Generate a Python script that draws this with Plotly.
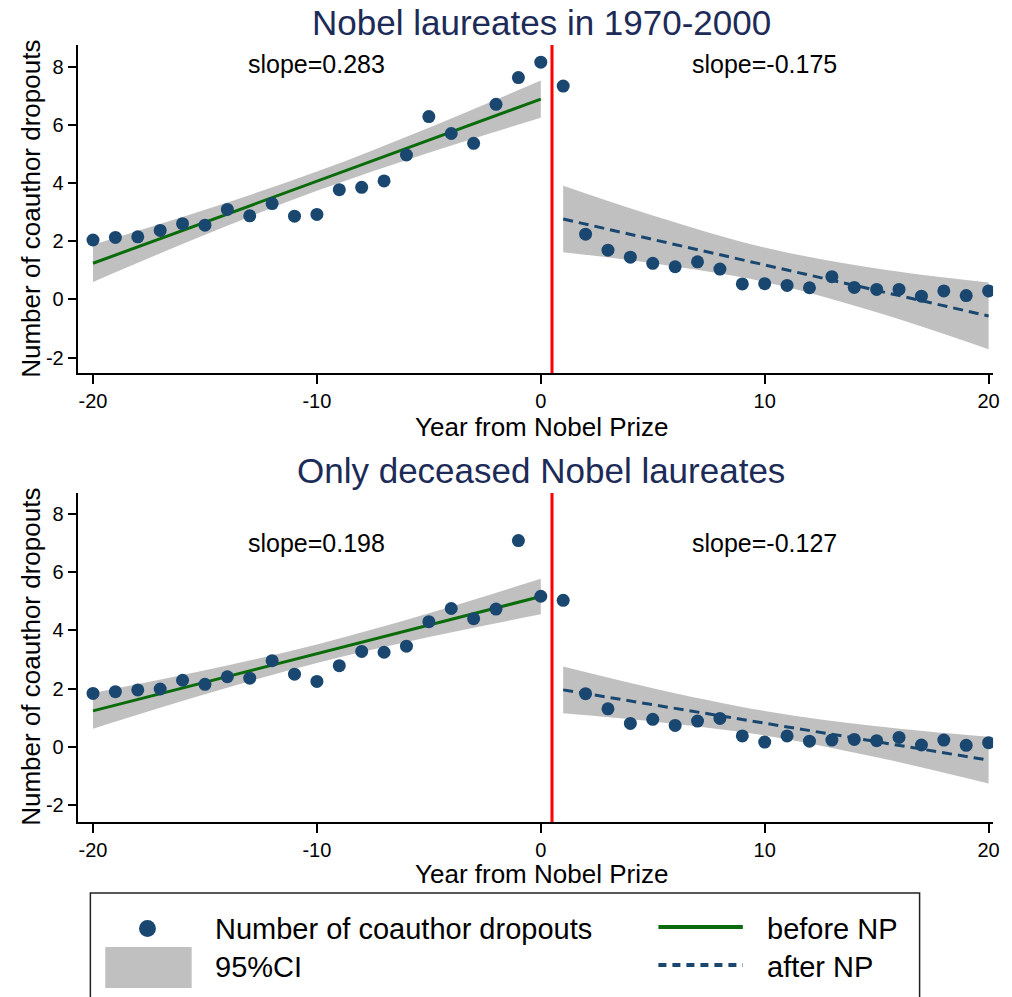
import plotly.graph_objects as go

# ---------------- data ----------------
years_before = list(range(-20, 1))
years_after = list(range(1, 21))

# Panel 1: Nobel laureates in 1970-2000
p1_before = [2.04, 2.13, 2.15, 2.37, 2.60, 2.55, 3.09, 2.87, 3.29, 2.86, 2.92,
             3.77, 3.85, 4.07, 4.96, 6.28, 5.70, 5.36, 6.70, 7.62, 8.15]
p1_after = [7.33, 2.24, 1.69, 1.45, 1.24, 1.12, 1.29, 1.04, 0.53, 0.54, 0.48,
            0.40, 0.78, 0.41, 0.34, 0.34, 0.11, 0.29, 0.13, 0.29]

# Panel 2: Only deceased Nobel laureates
p2_before = [1.84, 1.90, 1.96, 1.99, 2.29, 2.15, 2.41, 2.36, 2.96, 2.50, 2.25,
             2.79, 3.28, 3.25, 3.46, 4.30, 4.75, 4.40, 4.73, 7.08, 5.17]
p2_after = [5.03, 1.83, 1.31, 0.81, 0.95, 0.74, 0.89, 0.98, 0.38, 0.17, 0.38,
            0.20, 0.24, 0.26, 0.22, 0.33, 0.07, 0.24, 0.06, 0.15]

# fitted lines (read at the end points) and 95% CI band (read at 5 points)
fit_x_before = [-20, 0]
fit_x_after = [1, 20]
p1_fit_before = [1.24, 6.88]
p1_fit_after = [2.76, -0.57]
p2_fit_before = [1.24, 5.16]
p2_fit_after = [1.96, -0.45]

ci_x_before = [-20, -15, -10, -5, 0]
ci_x_after = [1, 5, 10, 15, 20]
p1_ci_before_lo = [0.60, 2.22, 3.73, 5.04, 6.24]
p1_ci_before_hi = [1.88, 3.08, 4.39, 5.90, 7.52]
p1_ci_after_lo = [1.62, 1.24, 0.60, -0.44, -1.71]
p1_ci_after_hi = [3.90, 2.88, 1.78, 1.06, 0.58]
p2_ci_before_lo = [0.63, 1.81, 2.88, 3.77, 4.55]
p2_ci_before_hi = [1.85, 2.63, 3.52, 4.59, 5.77]
p2_ci_after_lo = [1.16, 0.88, 0.40, -0.35, -1.25]
p2_ci_after_hi = [2.76, 2.02, 1.24, 0.71, 0.35]

slopes_before = ["slope=0.283", "slope=0.198"]
slopes_after = ["slope=-0.175", "slope=-0.127"]
panel_titles = ["Nobel laureates in 1970-2000", "Only deceased Nobel laureates"]
cutoff = 0.5

x_ticks = [-20, -10, 0, 10, 20]
x_ticklabels = ["-20", "-10", "0", "10", "20"]
y_ticks = [-2, 0, 2, 4, 6, 8]
y_ticklabels = ["-2", "0", "2", "4", "6", "8"]

# ---------------- style ----------------
W, H = 1012, 997
FONT = "Liberation Sans, Arial, Helvetica, sans-serif"
NAVY = "#1a476f"
GREEN = "#0a6b0a"
BAND = "#c0c0c0"
TITLE_C = "#1c2b57"

def px_x(p):
    return p / W

def px_y(p):
    return 1 - p / H

fig = go.Figure()

panels = [
    dict(before=p1_before, after=p1_after, fb=p1_fit_before, fa=p1_fit_after,
         cblo=p1_ci_before_lo, cbhi=p1_ci_before_hi, calo=p1_ci_after_lo, cahi=p1_ci_after_hi,
         xa="x", ya="y"),
    dict(before=p2_before, after=p2_after, fb=p2_fit_before, fa=p2_fit_after,
         cblo=p2_ci_before_lo, cbhi=p2_ci_before_hi, calo=p2_ci_after_lo, cahi=p2_ci_after_hi,
         xa="x2", ya="y2"),
]

for p in panels:
    for cx, lo, hi in [(ci_x_before, p["cblo"], p["cbhi"]), (ci_x_after, p["calo"], p["cahi"])]:
        fig.add_trace(go.Scatter(x=cx, y=lo, mode="lines", line=dict(width=0, color=BAND, shape="spline"),
                                 xaxis=p["xa"], yaxis=p["ya"], showlegend=False, hoverinfo="skip"))
        fig.add_trace(go.Scatter(x=cx, y=hi, mode="lines", line=dict(width=0, color=BAND, shape="spline"),
                                 fill="tonexty", fillcolor=BAND,
                                 xaxis=p["xa"], yaxis=p["ya"], showlegend=False, hoverinfo="skip"))
    fig.add_trace(go.Scatter(x=fit_x_before, y=p["fb"], mode="lines", line=dict(color=GREEN, width=3),
                             xaxis=p["xa"], yaxis=p["ya"], showlegend=False))
    fig.add_trace(go.Scatter(x=fit_x_after, y=p["fa"], mode="lines",
                             line=dict(color=NAVY, width=3, dash="10px,6px"),
                             xaxis=p["xa"], yaxis=p["ya"], showlegend=False))
    fig.add_trace(go.Scatter(x=years_before + years_after, y=p["before"] + p["after"], mode="markers",
                             marker=dict(color=NAVY, size=13),
                             xaxis=p["xa"], yaxis=p["ya"], showlegend=False))

axis_common = dict(showgrid=False, zeroline=False, showline=True, linecolor="black", linewidth=1.5,
                   ticks="outside", ticklen=9, tickwidth=1.5, tickcolor="black",
                   tickfont=dict(family=FONT, size=20, color="black"))

fig.update_layout(
    width=W, height=H, margin=dict(l=0, r=0, t=0, b=0),
    paper_bgcolor="white", plot_bgcolor="white", showlegend=False,
    font=dict(family=FONT, color="black"),
    xaxis=dict(domain=[px_x(79), px_x(1000)], anchor="y", range=[-20.65, 20.2],
               tickvals=x_ticks, ticktext=x_ticklabels, **axis_common),
    yaxis=dict(domain=[px_y(373), px_y(45)], anchor="x", range=[-2.53, 8.74],
               tickvals=y_ticks, ticktext=y_ticklabels, **axis_common),
    xaxis2=dict(domain=[px_x(79), px_x(1000)], anchor="y2", range=[-20.65, 20.2],
                tickvals=x_ticks, ticktext=x_ticklabels, **axis_common),
    yaxis2=dict(domain=[px_y(822), px_y(493)], anchor="x2", range=[-2.57, 8.71],
                tickvals=y_ticks, ticktext=y_ticklabels, **axis_common),
)

shapes = []
annotations = []
# red cutoff lines
for xa, ya in [("x", "y"), ("x2", "y2")]:
    shapes.append(dict(type="line", xref=xa, yref=ya + " domain", x0=cutoff, x1=cutoff, y0=0, y1=1,
                       line=dict(color="#ff0000", width=3)))

# panel titles, axis titles, slope labels
title_y = [22, 470]
xtitle_y = [427, 874]
ytitle_center = [209, 657]
slope_y = [8.1, 7.0]
for i, (xa, ya) in enumerate([("x", "y"), ("x2", "y2")]):
    annotations.append(dict(text=panel_titles[i], xref="paper", yref="paper", x=px_x(545), y=px_y(title_y[i]),
                            xanchor="center", yanchor="middle", showarrow=False,
                            font=dict(family=FONT, size=35, color=TITLE_C)))
    annotations.append(dict(text="Year from Nobel Prize", xref="paper", yref="paper", x=px_x(545), y=px_y(xtitle_y[i]),
                            xanchor="center", yanchor="middle", showarrow=False,
                            font=dict(family=FONT, size=26, color="black")))
    annotations.append(dict(text="Number of coauthor dropouts", xref="paper", yref="paper", x=px_x(31),
                            y=px_y(ytitle_center[i]), xanchor="center", yanchor="middle", textangle=-90,
                            showarrow=False, font=dict(family=FONT, size=26, color="black")))
    annotations.append(dict(text=slopes_before[i], xref=xa, yref=ya, x=-10, y=slope_y[i],
                            xanchor="center", yanchor="middle", showarrow=False,
                            font=dict(family=FONT, size=25, color="black")))
    annotations.append(dict(text=slopes_after[i], xref=xa, yref=ya, x=10, y=slope_y[i],
                            xanchor="center", yanchor="middle", showarrow=False,
                            font=dict(family=FONT, size=25, color="black")))

# legend (drawn manually)
shapes.append(dict(type="rect", xref="paper", yref="paper", x0=px_x(91), x1=px_x(926), y0=px_y(1005), y1=px_y(893),
                   line=dict(color="#222222", width=1.5), fillcolor="rgba(0,0,0,0)"))
shapes.append(dict(type="circle", xref="paper", yref="paper", x0=px_x(140), x1=px_x(157), y0=px_y(937), y1=px_y(920),
                   line=dict(width=0), fillcolor=NAVY))
shapes.append(dict(type="rect", xref="paper", yref="paper", x0=px_x(106), x1=px_x(193), y0=px_y(988), y1=px_y(947),
                   line=dict(width=0), fillcolor=BAND))
shapes.append(dict(type="line", xref="paper", yref="paper", x0=px_x(663), x1=px_x(748), y0=px_y(927), y1=px_y(927),
                   line=dict(color=GREEN, width=4)))
shapes.append(dict(type="line", xref="paper", yref="paper", x0=px_x(663), x1=px_x(748), y0=px_y(965), y1=px_y(965),
                   line=dict(color=NAVY, width=4, dash="8px,6px")))
legend_texts = [("Number of coauthor dropouts", 214, 929), ("95%CI", 214, 967),
                ("before NP", 770, 929), ("after NP", 770, 967)]
for t, lx, ly in legend_texts:
    annotations.append(dict(text=t, xref="paper", yref="paper", x=px_x(lx), y=px_y(ly),
                            xanchor="left", yanchor="middle", showarrow=False,
                            font=dict(family=FONT, size=29, color="black")))

fig.update_layout(shapes=shapes, annotations=annotations)
fig.write_html("out.html", config={"displayModeBar": False},
               post_script="document.body.style.margin='0px';document.body.style.overflow='hidden';")
